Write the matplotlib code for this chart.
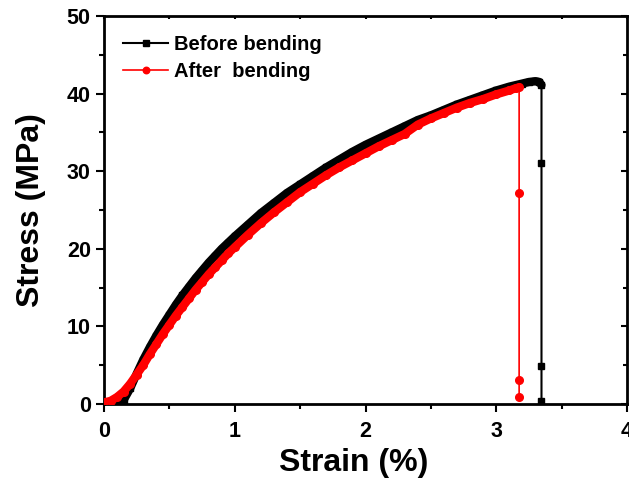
import matplotlib
matplotlib.use("Agg")
import matplotlib.pyplot as plt
from matplotlib.ticker import MultipleLocator
from matplotlib import lines as mlines

plt.rcParams['font.family'] = ['Liberation Sans', 'DejaVu Sans']
plt.rcParams['font.weight'] = 'bold'

# Before bending (black squares)
before_strain = [0.00, 0.05, 0.10, 0.15, 0.20, 0.25, 0.30, 0.35, 0.40, 0.45, 0.50, 0.55, 0.60, 0.65,
                 0.70, 0.75, 0.80, 0.85, 0.90, 0.95, 1.00, 1.10, 1.20, 1.30, 1.40, 1.50, 1.60, 1.70,
                 1.80, 1.90, 2.00, 2.10, 2.20, 2.30, 2.40, 2.50, 2.60, 2.70, 2.80, 2.90, 3.00, 3.10,
                 3.20, 3.25, 3.30, 3.33, 3.346, 3.346, 3.346, 3.346]
before_stress = [0.0, 0.0, 0.1, 0.5, 2.0, 3.9, 5.7, 7.3, 8.8, 10.2, 11.5, 12.8, 14.0, 15.1,
                 16.2, 17.2, 18.2, 19.1, 20.0, 20.8, 21.6, 23.1, 24.6, 25.9, 27.2, 28.3, 29.4, 30.5,
                 31.5, 32.5, 33.4, 34.2, 35.0, 35.8, 36.6, 37.2, 37.9, 38.6, 39.2, 39.8, 40.4, 40.9,
                 41.3, 41.5, 41.6, 41.5, 41.1, 31.1, 4.9, 0.4]

# After bending (red circles)
after_strain = [0.00, 0.05, 0.10, 0.15, 0.20, 0.25, 0.30, 0.35, 0.40, 0.45, 0.50, 0.55, 0.60, 0.65,
                0.70, 0.75, 0.80, 0.85, 0.90, 0.95, 1.00, 1.10, 1.20, 1.30, 1.40, 1.50, 1.60, 1.70,
                1.80, 1.90, 2.00, 2.10, 2.20, 2.30, 2.40, 2.50, 2.60, 2.70, 2.80, 2.90, 3.00, 3.10,
                3.15, 3.175, 3.175, 3.175, 3.175]
after_stress = [0.2, 0.4, 0.9, 1.6, 2.6, 3.8, 5.0, 6.4, 7.7, 9.0, 10.2, 11.4, 12.5, 13.6,
                14.7, 15.7, 16.7, 17.6, 18.5, 19.4, 20.2, 21.8, 23.3, 24.7, 26.0, 27.3, 28.4, 29.5,
                30.5, 31.4, 32.3, 33.2, 34.0, 34.8, 36.0, 36.8, 37.5, 38.2, 38.8, 39.3, 39.9, 40.4,
                40.7, 40.8, 27.2, 3.1, 0.9]

before_n_curve = 47  # points on the continuous curve before the drop
after_n_curve = 44

fig = plt.figure(figsize=(6.29, 4.84), dpi=100)
ax = fig.add_axes([104/629, 80/484, 523/629, 388/484])

# dense band for the continuous part
ax.plot(before_strain[:before_n_curve], before_stress[:before_n_curve], color='black', lw=6,
        solid_capstyle='round', solid_joinstyle='round', zorder=2)
ax.plot(before_strain, before_stress, color='black', lw=1.5, marker='s', ms=5,
        label='Before bending', zorder=3)
ax.plot(after_strain[:after_n_curve], after_stress[:after_n_curve], color='red', lw=6,
        solid_capstyle='round', solid_joinstyle='round', zorder=4)
ax.plot(after_strain, after_stress, color='red', lw=1.2, marker='o', ms=5.5,
        label='After  bending', zorder=5)

ax.set_xlim(0, 4)
ax.set_ylim(0, 50)
ax.xaxis.set_major_locator(MultipleLocator(1))
ax.xaxis.set_minor_locator(MultipleLocator(0.5))
ax.yaxis.set_major_locator(MultipleLocator(10))
ax.yaxis.set_minor_locator(MultipleLocator(5))

for s in ax.spines.values():
    s.set_linewidth(2)

ax.tick_params(axis='both', which='major', direction='out', length=6, width=1.5,
               labelsize=15.5)
ax.tick_params(axis='x', which='major', pad=6)
ax.tick_params(axis='y', which='major', pad=3.5)
ax.tick_params(axis='both', which='minor', direction='out', length=3.5, width=1.5)
ax.tick_params(top=True, right=True, which='both')
# top / right ticks point inward
for t in ax.xaxis.get_major_ticks() + ax.xaxis.get_minor_ticks():
    t.tick2line.set_marker(mlines.TICKDOWN)
    t.tick2line.set_markersize(2)
for t in ax.yaxis.get_major_ticks():
    t.tick2line.set_marker(mlines.TICKLEFT)
    t.tick2line.set_markersize(4)
for t in ax.yaxis.get_minor_ticks():
    t.tick2line.set_marker(mlines.TICKLEFT)
    t.tick2line.set_markersize(3)

for lab in ax.get_xticklabels() + ax.get_yticklabels():
    lab.set_fontweight('bold')

ax.set_xlabel('Strain (%)', fontsize=23, fontweight='bold')
ax.set_ylabel('Stress (MPa)', fontsize=23, fontweight='bold')
ax.xaxis.set_label_coords(0.477, -0.113)
ax.yaxis.set_label_coords(-0.111, 0.5)

leg = ax.legend(loc='upper left', bbox_to_anchor=(0.0363, 0.951), frameon=False,
                prop={'size': 14.5, 'weight': 'bold'}, handlelength=2.25,
                handletextpad=0.3, labelspacing=0.4, borderpad=0, borderaxespad=0,
                markerscale=0.85)

fig.savefig('out.png', dpi=100)
